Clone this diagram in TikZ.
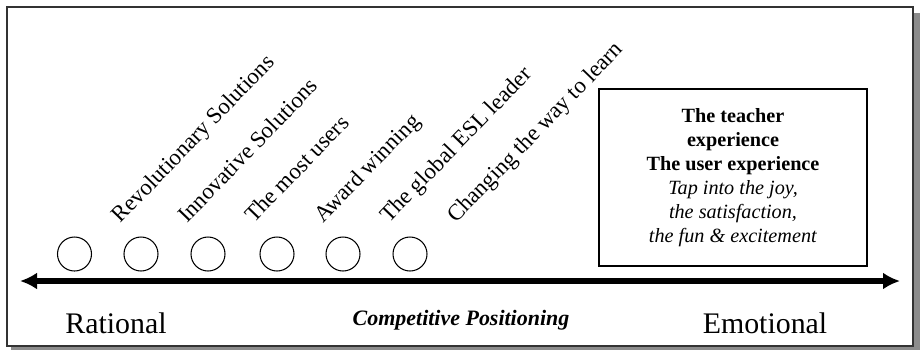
\documentclass[tikz,border=0pt]{standalone}
\usepackage{fontspec}
\setmainfont{Liberation Serif}
\usepackage{tikz}
\usetikzlibrary{arrows.meta,positioning,calc}

\begin{document}
\begin{tikzpicture}[
  font=\fontsize{12.5}{15}\selectfont,
  spot/.style={draw, circle, minimum size=0.68cm, inner sep=0pt, line width=0.6pt},
  claim/.style={rotate=46, anchor=base west, inner sep=0pt, font=\fontsize{13}{15}\selectfont},
  pole/.style={font=\fontsize{17}{20}\selectfont, anchor=base, inner sep=0pt},
  axis/.style={{Latex[length=3.4mm,width=3.4mm]}-{Latex[length=3.4mm,width=3.4mm]}, line width=3.4pt},
  panel/.style={draw, line width=0.9pt, align=center, minimum width=5.36cm, minimum height=3.54cm, font=\fontsize{11.5}{13.7}\selectfont}
]
\useasboundingbox (0,0) rectangle (18.4,7);
% frame and its shadow
\fill[black!45] (0.22,0) rectangle (18.4,6.74);
\draw[line width=1.1pt, draw=black!80, fill=white] (0.14,0.08) rectangle (18.26,6.86);

\node[spot] (c1) at (1.49,1.92) {};
\node[spot] (c2) at (2.82,1.92) {};
\node[spot] (c3) at (4.16,1.92) {};
\node[spot] (c4) at (5.54,1.92) {};
\node[spot] (c5) at (6.86,1.92) {};
\node[spot] (c6) at (8.20,1.92) {};

\node[claim] (l1) at ($(c1)+(0.92,0.6)$) {Revolutionary Solutions};
\node[claim] (l2) at ($(c2)+(0.92,0.6)$) {Innovative Solutions};
\node[claim] (l3) at ($(c3)+(0.92,0.6)$) {The most users};
\node[claim] (l4) at ($(c4)+(0.92,0.6)$) {Award winning};
\node[claim] (l5) at ($(c5)+(0.92,0.6)$) {The global ESL leader};
\node[claim] (l6) at ($(c6)+(0.92,0.6)$) {Changing the way to learn};

\node[panel] (exp) at (14.66,3.45) {\textbf{The teacher}\\\textbf{experience}\\\textbf{The user experience}\\\textit{Tap into the joy,}\\\textit{the satisfaction,}\\\textit{the fun \& excitement}};

% the axis
\coordinate (lend) at (0.40,1.38);
\coordinate (rend) at (18.0,1.38);
\draw[axis] (lend) -- (rend);

\node[pole] (rat) at (2.32,0.34) {Rational};
\node[pole] (emo) at (15.3,0.34) {Emotional};
\node[anchor=base, inner sep=0pt, font=\fontsize{12.5}{15}\selectfont\bfseries\itshape] (cp) at (9.22,0.50) {Competitive Positioning};
\end{tikzpicture}
\end{document}
